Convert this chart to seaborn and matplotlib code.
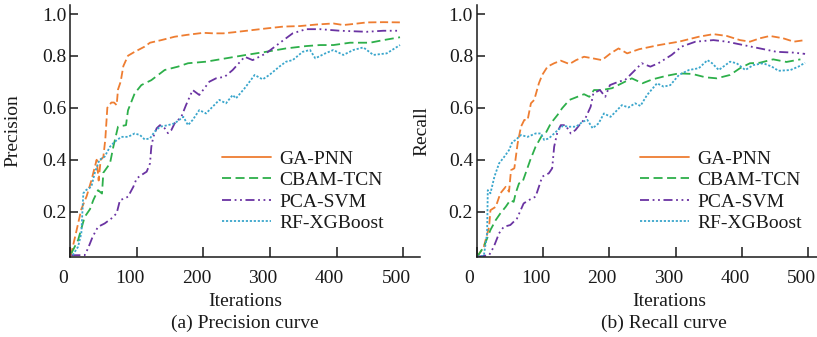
import seaborn as sns
import matplotlib.pyplot as plt
import matplotlib.transforms as mtransforms

# ---------------- data ----------------
models = ['GA-PNN', 'CBAM-TCN', 'PCA-SVM', 'RF-XGBoost']

# (a) Precision
prec_ga_x = [1, 10, 17, 25, 32, 36, 40, 43, 46, 50, 53, 56, 62, 66, 70, 72, 76, 80, 87, 97,
             112, 120, 137, 157, 175, 200, 215, 230, 245, 265, 295, 320, 345, 370, 395, 410, 425, 445, 470, 500]
prec_ga_y = [0.03, 0.13, 0.21, 0.26, 0.32, 0.36, 0.40, 0.32, 0.40, 0.41, 0.48, 0.60, 0.62, 0.62, 0.61, 0.67, 0.70, 0.76, 0.80, 0.815,
             0.835, 0.85, 0.86, 0.873, 0.88, 0.888, 0.886, 0.886, 0.89, 0.896, 0.905, 0.912, 0.914, 0.92, 0.924, 0.918, 0.922, 0.928, 0.929, 0.928]

prec_cbam_x = [2, 12, 22, 30, 35, 42, 48, 50, 60, 65, 72, 84, 87, 97, 107, 122, 142, 162, 177, 204,
               234, 264, 294, 324, 354, 375, 395, 420, 450, 470, 495]
prec_cbam_y = [0.04, 0.09, 0.18, 0.21, 0.245, 0.283, 0.27, 0.35, 0.386, 0.45, 0.527, 0.533, 0.59, 0.655, 0.687, 0.706, 0.745, 0.758, 0.771, 0.777,
               0.79, 0.803, 0.815, 0.828, 0.837, 0.841, 0.841, 0.85, 0.85, 0.86, 0.871]

prec_pca_x = [2, 22, 27, 34, 42, 52, 62, 70, 75, 82, 87, 95, 100, 107, 115, 120, 122, 125, 130, 135,
              142, 147, 152, 157, 167, 174, 184, 194, 209, 219, 232, 244, 262, 274, 294, 314, 334, 354, 375, 405,
              445, 470, 495]
prec_pca_y = [0.033, 0.033, 0.059, 0.104, 0.142, 0.155, 0.174, 0.194, 0.245, 0.251, 0.258, 0.296, 0.328, 0.341, 0.354, 0.386, 0.45, 0.488, 0.521, 0.533,
              0.521, 0.502, 0.514, 0.54, 0.565, 0.61, 0.668, 0.649, 0.70, 0.713, 0.719, 0.745, 0.796, 0.783, 0.809, 0.848, 0.886, 0.902, 0.902, 0.896,
              0.892, 0.896, 0.896]

prec_rf_x = [4, 12, 17, 20, 24, 32, 37, 44, 52, 60, 67, 77, 87, 97, 105, 112, 120, 127, 135, 147,
             157, 170, 177, 184, 194, 204, 214, 224, 234, 244, 249, 262, 277, 289, 299, 314, 324, 334, 349, 360,
             368, 383, 395, 410, 425, 440, 455, 475, 495]
prec_rf_y = [0.033, 0.065, 0.117, 0.271, 0.283, 0.296, 0.348, 0.399, 0.412, 0.45, 0.469, 0.488, 0.488, 0.501, 0.495, 0.478, 0.482, 0.508, 0.527, 0.533,
             0.54, 0.565, 0.533, 0.553, 0.591, 0.578, 0.604, 0.63, 0.617, 0.649, 0.636, 0.675, 0.726, 0.709, 0.726, 0.758, 0.777, 0.783, 0.815, 0.822,
             0.79, 0.809, 0.822, 0.803, 0.822, 0.832, 0.803, 0.809, 0.841]

# (b) Recall
rec_ga_x = [1, 11, 19, 21, 29, 36, 44, 49, 52, 57, 62, 67, 72, 77, 82, 87, 94, 99, 107, 117,
            127, 140, 150, 162, 175, 189, 202, 214, 227, 245, 275, 305, 335, 357, 377, 397, 412, 427, 442, 462,
            478, 495]
rec_ga_y = [0.027, 0.065, 0.142, 0.206, 0.219, 0.271, 0.296, 0.277, 0.36, 0.367, 0.463, 0.527, 0.553, 0.553, 0.617, 0.63, 0.694, 0.726, 0.758, 0.771,
            0.781, 0.768, 0.783, 0.796, 0.79, 0.783, 0.809, 0.828, 0.809, 0.825, 0.841, 0.854, 0.873, 0.883, 0.876, 0.86, 0.854, 0.867, 0.876, 0.867,
            0.854, 0.86]

rec_cbam_x = [1, 11, 21, 29, 36, 44, 51, 56, 59, 64, 69, 74, 81, 89, 99, 104, 112, 122, 129, 140,
              152, 162, 170, 177, 189, 204, 219, 234, 250, 265, 285, 305, 325, 345, 362, 382, 397, 412, 427, 447,
              467, 488]
rec_cbam_y = [0.027, 0.065, 0.13, 0.168, 0.194, 0.219, 0.245, 0.238, 0.271, 0.309, 0.312, 0.348, 0.399, 0.45, 0.495, 0.501, 0.54, 0.572, 0.598, 0.63,
              0.642, 0.652, 0.642, 0.668, 0.668, 0.675, 0.694, 0.713, 0.694, 0.709, 0.722, 0.732, 0.73, 0.717, 0.713, 0.726, 0.752, 0.771, 0.773, 0.786,
              0.776, 0.786]

rec_pca_x = [1, 19, 26, 34, 41, 51, 61, 71, 79, 89, 94, 99, 109, 114, 117, 122, 127, 134, 142, 149,
             157, 164, 172, 176, 186, 194, 201, 214, 224, 239, 249, 262, 274, 294, 309, 330, 357, 377, 402, 427,
             452, 477, 495]
rec_pca_y = [0.027, 0.033, 0.065, 0.117, 0.142, 0.149, 0.174, 0.232, 0.245, 0.258, 0.296, 0.335, 0.348, 0.367, 0.45, 0.508, 0.533, 0.533, 0.501, 0.514,
             0.54, 0.559, 0.604, 0.655, 0.668, 0.642, 0.687, 0.70, 0.707, 0.745, 0.771, 0.758, 0.771, 0.803, 0.835, 0.854, 0.86, 0.854, 0.841, 0.828,
             0.815, 0.812, 0.807]

rec_rf_x = [1, 11, 16, 17, 21, 27, 34, 42, 49, 54, 59, 67, 77, 89, 97, 102, 109, 120, 130, 140,
            150, 160, 167, 175, 184, 192, 202, 212, 219, 229, 239, 247, 257, 272, 282, 292, 305, 320, 335, 348,
            355, 365, 382, 392, 405, 417, 432, 445, 455, 473, 485, 495]
rec_rf_y = [0.027, 0.03, 0.117, 0.283, 0.271, 0.335, 0.386, 0.412, 0.437, 0.469, 0.476, 0.495, 0.488, 0.501, 0.501, 0.476, 0.482, 0.508, 0.53, 0.527,
            0.527, 0.546, 0.553, 0.521, 0.54, 0.578, 0.565, 0.591, 0.61, 0.601, 0.617, 0.607, 0.649, 0.694, 0.681, 0.687, 0.726, 0.745, 0.752, 0.783,
            0.771, 0.745, 0.777, 0.771, 0.745, 0.764, 0.771, 0.758, 0.742, 0.745, 0.758, 0.773]

x_ticks = [0, 100, 200, 300, 400, 500]
y_ticks = [0.2, 0.4, 0.6, 0.8, 0.96]
y_ticklabels = ['0.2', '0.4', '0.6', '0.8', '1.0']

colors = ['#EE7D31', '#2DAF4A', '#6A33A2', '#3AA6CC']
styles = [(0, (4.5, 2)), (0, (5, 2.5)), (0, (5, 2, 1, 2, 1, 2)), (0, (1.2, 1))]

# ---------------- style ----------------
sns.set_theme(style='ticks')
plt.rcParams['font.family'] = ['Liberation Serif', 'DejaVu Serif']
FS = 14

fig = plt.figure(figsize=(8.17, 3.37), dpi=100)
W, H = 817, 337
ax1 = fig.add_axes([70 / W, 1 - 257 / H, 350 / W, 252 / H])
ax2 = fig.add_axes([476.5 / W, 1 - 257 / H, 340.5 / W, 252 / H])

panels = [
    (ax1, [(prec_ga_x, prec_ga_y), (prec_cbam_x, prec_cbam_y), (prec_pca_x, prec_pca_y), (prec_rf_x, prec_rf_y)],
     'Precision', 525, -0.14, 0.5, 0.434, '(a) Precision curve', 245),
    (ax2, [(rec_ga_x, rec_ga_y), (rec_cbam_x, rec_cbam_y), (rec_pca_x, rec_pca_y), (rec_rf_x, rec_rf_y)],
     'Recall', 513, -0.1345, 0.565, 0.481, '(b) Recall curve', 664),
]

offset = mtransforms.ScaledTranslation(-7 / 100, 0, fig.dpi_scale_trans)

for ax, series, ylab, xmax, ylab_x, xlab_x, leg_x, caption, cap_x in panels:
    for (xs, ys), name, c, ls in zip(series, models, colors, styles):
        sns.lineplot(x=xs, y=ys, ax=ax, color=c, linestyle=ls, linewidth=1.3,
                     estimator=None, sort=False, label=name)

    ax.set_xlim(0, xmax)
    ax.set_ylim(0.026, 0.995)
    ax.set_xticks(x_ticks)
    ax.set_yticks(y_ticks)
    ax.set_yticklabels(y_ticklabels)
    ax.tick_params(axis='x', direction='in', length=7, width=1.1, pad=9.5,
                   labelsize=FS, colors='#1a1a1a')
    ax.tick_params(axis='y', direction='in', length=5.5, width=1.1, pad=2.5,
                   labelsize=FS, colors='#1a1a1a')
    for lbl in ax.get_xticklabels():
        lbl.set_transform(lbl.get_transform() + offset)

    for s in ['top', 'right']:
        ax.spines[s].set_visible(False)
    for s in ['left', 'bottom']:
        ax.spines[s].set_linewidth(1.1)
        ax.spines[s].set_color('#1a1a1a')

    ax.set_ylabel(ylab, fontsize=FS, color='#1a1a1a')
    ax.yaxis.set_label_coords(ylab_x, 0.5)
    ax.set_xlabel('Iterations', fontsize=FS, color='#1a1a1a', va='baseline')
    ax.xaxis.set_label_coords(xlab_x, -49 / 252)

    leg = ax.legend(loc='upper left', bbox_to_anchor=(leg_x, 0.425), frameon=False,
                    fontsize=FS, handlelength=2.5, handletextpad=0.45,
                    labelspacing=0.2, borderpad=0, borderaxespad=0)
    leg.legend_handles[0].set_linestyle('-')
    for t in leg.get_texts():
        t.set_color('#1a1a1a')

    fig.text(cap_x / W, 1 - 328 / H, caption, ha='center', va='baseline',
             fontsize=FS, color='#1a1a1a')

fig.savefig('out.png', dpi=100)
